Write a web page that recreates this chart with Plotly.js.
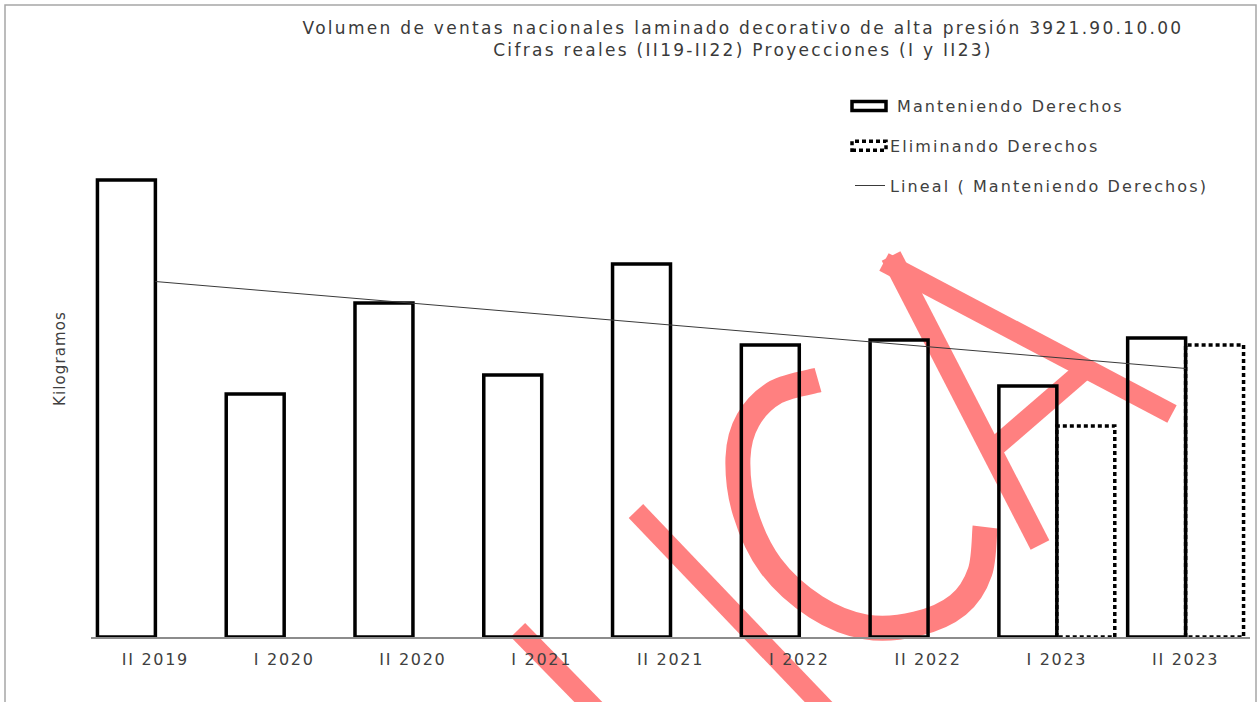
<!DOCTYPE html>
<html>
<head>
<meta charset="utf-8">
<script src="https://cdn.plot.ly/plotly-3.0.1.min.js"></script>
<style>
  html, body { margin: 0; padding: 0; background: #fff; }
  #chart { width: 1259px; height: 702px; }
  .gtitle { letter-spacing: 2.3px; }
  .legendtext { letter-spacing: 2.1px; }
  .xtick text { letter-spacing: 1.7px; }
  .ytitle { letter-spacing: 1.1px; }
</style>
</head>
<body>
<div id="chart"></div>
<script>
// ---- data (relative kilogram volumes) ----
const categories = ['II 2019', 'I 2020', 'II 2020', 'I 2021', 'II 2021', 'I 2022', 'II 2022', 'I 2023', 'II 2023'];
const manteniendo = [457, 243, 334, 262, 373, 292, 297, 251, 299];
const eliminando = [null, null, null, null, null, null, null, 211, 292];

const titleText = 'Volumen de ventas nacionales laminado decorativo de alta presión 3921.90.10.00<br>Cifras reales (II19-II22) Proyecciones (I y II23)';
const yTitle = 'Kilogramos';
const names = ['Manteniendo Derechos', 'Eliminando Derechos', 'Lineal ( Manteniendo Derechos)'];

// linear trend (least squares) of the "Manteniendo" series
const n = manteniendo.length;
const xs = manteniendo.map((_, i) => i);
const mx = xs.reduce((a, b) => a + b, 0) / n;
const my = manteniendo.reduce((a, b) => a + b, 0) / n;
let sxy = 0, sxx = 0;
for (let i = 0; i < n; i++) { sxy += (xs[i] - mx) * (manteniendo[i] - my); sxx += (xs[i] - mx) ** 2; }
const slope = sxy / sxx;
const trend = xs.map(x => my + slope * (x - mx));

// ---- layout geometry ----
const W = 1259, H = 702;
const M = { l: 91, r: 9, t: 80, b: 65 };
const PW = W - M.l - M.r, PH = H - M.t - M.b;
const FONT = 'DejaVu Sans, Verdana, sans-serif';

// pixel -> paper helpers for decorative shapes (watermark / frame)
const px = x => (x - M.l) / PW;
const py = y => (H - M.b - y) / PH;
function poly(pts) {
  return pts.map((p, i) => (i ? 'L' : 'M') + px(p[0]).toFixed(4) + ',' + py(p[1]).toFixed(4)).join(' ');
}
function smooth(pts) {
  // Catmull-Rom to cubic Bezier
  let d = 'M' + px(pts[0][0]).toFixed(4) + ',' + py(pts[0][1]).toFixed(4);
  for (let i = 0; i < pts.length - 1; i++) {
    const p0 = pts[Math.max(i - 1, 0)], p1 = pts[i], p2 = pts[i + 1], p3 = pts[Math.min(i + 2, pts.length - 1)];
    const c1 = [p1[0] + (p2[0] - p0[0]) / 6, p1[1] + (p2[1] - p0[1]) / 6];
    const c2 = [p2[0] - (p3[0] - p1[0]) / 6, p2[1] - (p3[1] - p1[1]) / 6];
    d += ' C' + [c1, c2, p2].map(p => px(p[0]).toFixed(4) + ',' + py(p[1]).toFixed(4)).join(' ');
  }
  return d;
}
const RED = 'rgb(255,128,128)';
function stroke(path, w) { return { type: 'path', xref: 'paper', yref: 'paper', path: path, line: { color: RED, width: w }, layer: 'below' }; }
const shapes = [
  // page frame
  { type: 'rect', xref: 'paper', yref: 'paper', x0: px(5), x1: px(1256), y0: py(760), y1: py(5),
    line: { color: '#a6a6a6', width: 1.5 }, fillcolor: 'rgba(0,0,0,0)', layer: 'below' },
  // watermark strokes
  stroke(poly([[518, 630], [600, 714]]), 20),
  stroke(poly([[636, 511], [830, 714]]), 20),
  stroke(smooth([[818, 380], [776, 392], [748, 420], [738, 458], [745, 512], [771, 566], [816, 607], [866, 627], [916, 624], [958, 605], [980, 572], [985, 527]]), 25),
  stroke(poly([[891, 256], [1040, 545]]), 21),
  stroke(poly([[884, 262], [1172, 414]]), 20),
  stroke(poly([[994, 448], [1082, 372]]), 20)
];

const traces = [
  { type: 'bar', name: names[0], x: categories, y: manteniendo, legendgroup: 'a',
    marker: { color: 'rgba(0,0,0,0)', line: { color: '#000', width: 3.5 } }, hoverinfo: 'x+y' },
  { type: 'bar', name: names[1], x: categories, y: eliminando, legendgroup: 'b',
    marker: { color: 'rgba(0,0,0,0)', line: { color: '#000', width: 3.5 } }, hoverinfo: 'x+y' },
  { type: 'scatter', mode: 'lines', name: names[2], x: categories, y: trend, legendgroup: 'c',
    line: { color: '#3a3a3a', width: 1 }, hoverinfo: 'skip' }
];

const layout = {
  width: W, height: H,
  margin: M,
  paper_bgcolor: '#ffffff', plot_bgcolor: 'rgba(0,0,0,0)',
  font: { family: FONT, color: '#404040' },
  title: { text: titleText, font: { family: FONT, size: 17, color: '#3a3a3a' },
           xref: 'container', x: 743 / W, xanchor: 'center', yref: 'container', y: 1 - 34 / H, yanchor: 'top' },
  barmode: 'group', bargap: 0.1, bargroupgap: 0,
  showlegend: true,
  legend: { x: px(850), xanchor: 'left', y: py(89), yanchor: 'top', traceorder: 'grouped', tracegroupgap: 16,
            font: { family: FONT, size: 16, color: '#404040' }, bgcolor: 'rgba(0,0,0,0)', itemclick: false },
  xaxis: { type: 'category', showline: true, linecolor: '#8c8c8c', linewidth: 1.5, ticks: '', showgrid: false,
           zeroline: false, ticklabelstandoff: 7, tickfont: { family: FONT, size: 16, color: '#404040' } },
  yaxis: { range: [0, PH], showticklabels: false, showgrid: false, zeroline: false, showline: false, ticks: '',
           title: { text: yTitle, standoff: 20, font: { family: FONT, size: 15, color: '#404040' } } },
  shapes: shapes
};

Plotly.newPlot('chart', traces, layout, { displayModeBar: false, staticPlot: true }).then(gd => {
  // dotted outline for the "Eliminando Derechos" bars
  const barTraces = gd.querySelectorAll('.barlayer .trace');
  if (barTraces[1]) barTraces[1].querySelectorAll('path').forEach(p => { p.style.strokeDasharray = '4,3'; });
  // wide rectangle legend symbols
  const items = gd.querySelectorAll('.legend .traces');
  items.forEach((it, i) => {
    if (i < 2) {
      it.querySelectorAll('.legendpoints path').forEach(p => {
        p.setAttribute('d', 'M-18,4.5H16V-4.5H-18Z');
        p.style.strokeWidth = '3.5px';
        p.style.fill = 'rgba(0,0,0,0)';
        if (i === 1) p.style.strokeDasharray = '4,3';
      });
    }
    if (i === 0) {
      const t = it.querySelector('.legendtext');
      if (t) t.setAttribute('x', String(parseFloat(t.getAttribute('x')) + 7));
    }
  });
});
</script>
</body>
</html>
